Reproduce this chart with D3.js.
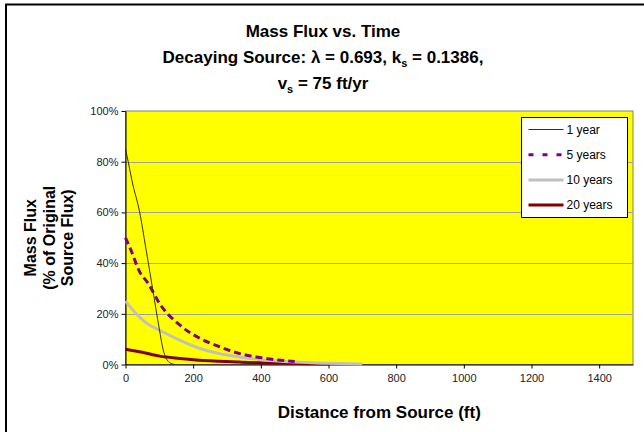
<!DOCTYPE html>
<html>
<head>
<meta charset="utf-8">
<script src="https://cdn.jsdelivr.net/npm/d3@7"></script>
<style>
  body { margin: 0; background: #fff; }
  svg { display: block; font-family: Arial, "Liberation Sans", sans-serif; }
</style>
</head>
<body>
<div id="chart"></div>
<script>
// series: [distance ft, mass flux %]
var oneYear = [[0, 85], [8, 80], [20, 72], [42, 60], [60, 46], [80, 30], [100, 14], [111, 6], [120, 2.5], [130, 0.8], [146, 0]];
var fiveYears = [[0, 50], [18, 44.5], [40, 37], [67, 32], [101, 24], [161, 15.5], [220, 10.3], [278, 7], [337, 4.3], [396, 2.8], [450, 1.8], [500, 1.2]];
var tenYears = [[0, 25], [32, 20], [60, 16.5], [101, 13.5], [160, 9.6], [220, 6.3], [278, 4.3], [337, 3], [396, 2], [500, 1], [600, 0.5], [700, 0.2]];
var twentyYears = [[0, 6], [50, 4.8], [101, 3.3], [161, 2.4], [220, 1.7], [278, 1.3], [337, 0.95], [396, 0.65], [500, 0.4], [600, 0.2]];

var seriesNames = ["1 year", "5 years", "10 years", "20 years"];
var seriesData = [oneYear, fiveYears, tenYears, twentyYears];
var seriesColors = ["#333300", "#800080", "#c0c0c0", "#800000"];
var seriesWidths = [1, 3, 3, 3];
var seriesDash = [null, "7,4", null, null];

var xTicks = [0, 200, 400, 600, 800, 1000, 1200, 1400];
var yTicks = [0, 20, 40, 60, 80, 100];

var width = 644, height = 432;
var margin = { left: 125.5, right: 11, top: 111, bottom: 67.5 };

var svg = d3.select("#chart").append("svg")
    .attr("width", width)
    .attr("height", height);

// outer chart frame (runs off the right and bottom edges)
svg.append("rect")
    .attr("x", 6).attr("y", 4.5)
    .attr("width", 700).attr("height", 500)
    .style("fill", "#fff")
    .style("stroke", "#000")
    .style("stroke-width", 2);

var x = d3.scaleLinear().domain([0, 1500]).range([margin.left, width - margin.right]);
var y = d3.scaleLinear().domain([0, 100]).range([height - margin.bottom, margin.top]);

// plot area
svg.append("rect")
    .attr("x", x(0)).attr("y", y(100))
    .attr("width", x(1500) - x(0)).attr("height", y(0) - y(100))
    .style("fill", "#ffff00")
    .style("stroke", "#808080")
    .style("stroke-width", 1);

// grid
svg.append("g").selectAll("line")
    .data(yTicks.filter(function (d) { return d > 0 && d < 100; }))
    .join("line")
    .attr("x1", x(0)).attr("x2", x(1500))
    .attr("y1", function (d) { return Math.round(y(d)) + 0.5; })
    .attr("y2", function (d) { return Math.round(y(d)) + 0.5; })
    .style("stroke", "#a0a0a0")
    .style("stroke-width", 1);

// axes
var xAxis = svg.append("g")
    .attr("transform", "translate(0," + y(0) + ")")
    .call(d3.axisBottom(x).tickValues(xTicks).tickSize(4).tickPadding(6).tickSizeOuter(0)
        .tickFormat(d3.format("d")));
var yAxis = svg.append("g")
    .attr("transform", "translate(" + x(0) + ",0)")
    .call(d3.axisLeft(y).tickValues(yTicks).tickSize(4).tickPadding(3).tickSizeOuter(0)
        .tickFormat(function (d) { return d + "%"; }));

[xAxis, yAxis].forEach(function (a) {
    a.select(".domain").style("stroke", "#000");
    a.selectAll(".tick line").style("stroke", "#000");
    a.selectAll("text")
        .style("font-size", "11px")
        .style("font-family", "Arial, 'Liberation Sans', sans-serif")
        .style("fill", "#222");
});

// lines
var line = d3.line()
    .x(function (d) { return x(d[0]); })
    .y(function (d) { return y(d[1]); })
    .curve(d3.curveMonotoneX);

svg.append("g").selectAll("path")
    .data(seriesData.map(function (d, i) { return i; }).reverse())
    .join("path")
    .attr("d", function (i) { return line(seriesData[i]); })
    .style("fill", "none")
    .style("stroke", function (i) { return seriesColors[i]; })
    .style("stroke-width", function (i) { return seriesWidths[i]; })
    .style("stroke-dasharray", function (i) { return seriesDash[i]; });

// legend
var legend = svg.append("g").attr("transform", "translate(521.5,117.5)");
legend.append("rect")
    .attr("width", 106).attr("height", 100)
    .style("fill", "#fff")
    .style("stroke", "#000")
    .style("stroke-width", 1);
var rows = legend.selectAll("g.row")
    .data(seriesNames)
    .join("g")
    .attr("class", "row")
    .attr("transform", function (d, i) { return "translate(0," + (12 + i * 25.2) + ")"; });
rows.append("line")
    .attr("x1", 7).attr("x2", 42)
    .style("stroke", function (d, i) { return seriesColors[i]; })
    .style("stroke-width", function (d, i) { return seriesWidths[i]; })
    .style("stroke-dasharray", function (d, i) { return seriesDash[i] ? "5,9" : null; });
rows.append("text")
    .attr("x", 45).attr("y", 4)
    .style("font-size", "12px")
    .style("fill", "#000")
    .text(function (d) { return d; });

// titles
var title = svg.append("text")
    .attr("text-anchor", "middle")
    .style("font-size", "17px")
    .style("font-weight", "bold");
title.append("tspan").attr("x", 323).attr("y", 37).text("Mass Flux vs. Time");
var t2 = title.append("tspan").attr("x", 323).attr("y", 63);
t2.append("tspan").text("Decaying Source: \u03bb = 0.693, k");
t2.append("tspan").attr("dy", 4).style("font-size", "11px").text("s");
t2.append("tspan").attr("dy", -4).text(" = 0.1386,");
var t3 = title.append("tspan").attr("x", 323).attr("y", 89);
t3.append("tspan").text("v");
t3.append("tspan").attr("dy", 4).style("font-size", "11px").text("s");
t3.append("tspan").attr("dy", -4).text(" = 75 ft/yr");

svg.append("text")
    .attr("x", (x(0) + x(1500)) / 2).attr("y", 418)
    .attr("text-anchor", "middle")
    .style("font-size", "17px")
    .style("font-weight", "bold")
    .text("Distance from Source (ft)");

var yTitle = svg.append("text")
    .attr("transform", "translate(0," + ((y(0) + y(100)) / 2) + ") rotate(-90)")
    .attr("text-anchor", "middle")
    .style("font-size", "16px")
    .style("font-weight", "bold");
["Mass Flux", "(% of Original", "Source Flux)"].forEach(function (s, i) {
    yTitle.append("tspan").attr("x", 0).attr("y", 36 + i * 18.5).text(s);
});
</script>
</body>
</html>
